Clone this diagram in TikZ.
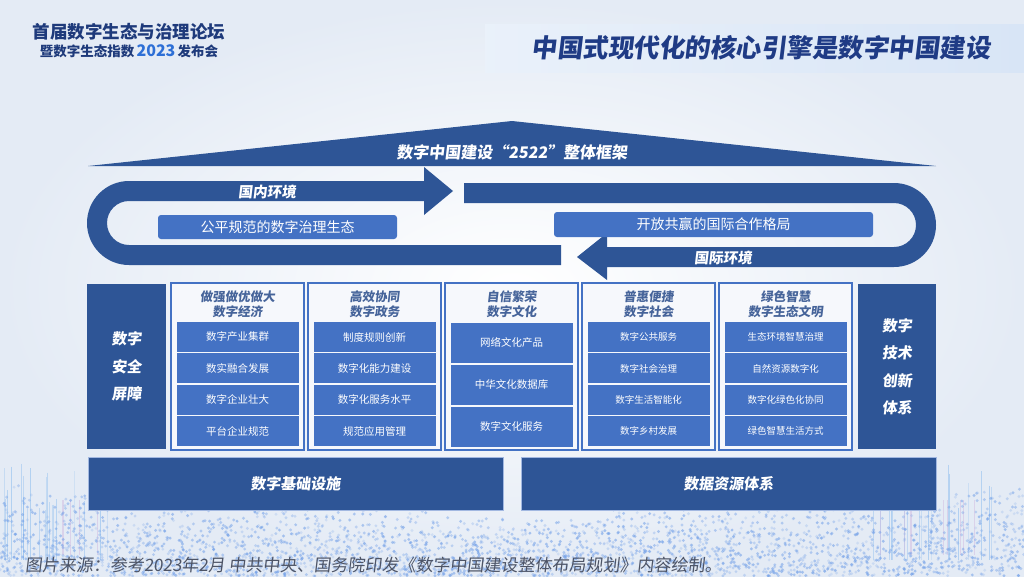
\documentclass[tikz,border=0pt]{standalone}
\usepackage{fontspec}
\setmainfont{Noto Sans CJK SC}
\newfontfamily\slantcjk{Noto Sans CJK SC}[FakeSlant=0.12]
\definecolor{navy}{HTML}{2E5596}
\definecolor{midblue}{HTML}{4472C4}
\definecolor{headnavy}{HTML}{1E3A7B}
\definecolor{coltitlec}{HTML}{46649A}
\definecolor{bandblue}{HTML}{D8E5F6}
\definecolor{bgedge}{HTML}{E4EBF5}
\definecolor{footcol}{HTML}{4D5466}
\definecolor{colbg}{HTML}{F6F8FC}
\definecolor{dotblue}{HTML}{6F9EE8}
\definecolor{streak}{HTML}{7FB6EE}
\definecolor{streakpink}{HTML}{C9A6D8}
\definecolor{yearblue}{HTML}{2D6FD6}
\definecolor{titlenavy}{HTML}{1F3B85}
\begin{document}
\begin{tikzpicture}[x=1pt,y=-1pt,
  every node/.style={inner sep=0pt, outer sep=0pt},
  roundbox/.style={fill=midblue, rounded corners=3pt, text=white, font=\fontsize{14}{16}\selectfont},
  sidebox/.style={fill=navy, text=white, align=center, font=\slantcjk\bfseries\fontsize{15}{27.5}\selectfont},
  colframe/.style={draw=midblue, line width=1.8pt, fill=colbg, minimum width=133pt, minimum height=167pt},
  coltitle/.style={text=coltitlec, align=center, font=\slantcjk\bfseries\fontsize{12.5}{15}\selectfont},
  itembox/.style={fill=midblue, text=white, font=\fontsize{10.5}{12}\selectfont, minimum width=122pt},
  itemsmall/.style={itembox, font=\fontsize{9.5}{11}\selectfont},
  basebar/.style={fill=navy, draw=midblue!50, line width=0.6pt, text=white, minimum width=415pt, minimum height=53pt, font=\slantcjk\bfseries\fontsize{15}{18}\selectfont},
  envlabel/.style={text=white, font=\slantcjk\bfseries\fontsize{14.5}{16}\selectfont},
]
\useasboundingbox (0,0) rectangle (1024,576);
% background
\fill[bgedge] (0,0) rectangle (1024,576);
\shade[inner color=white, outer color=bgedge] (0,0) rectangle (1024,576);
% decorative dots at bottom
\pgfmathsetseed{42}
\foreach \i in {1,...,40}{
  \pgfmathsetmacro{\px}{rnd<0.5 ? rnd*120 : 870+rnd*154}
  \pgfmathsetmacro{\py}{460+rnd*50}
  \pgfmathsetmacro{\op}{0.2+0.3*rnd}
  \draw[streak, opacity=\op, line width=1pt] (\px,\py) -- (\px,560);
}
\foreach \i in {1,...,12}{
  \pgfmathsetmacro{\px}{rnd<0.5 ? 40+rnd*60 : 880+rnd*120}
  \draw[streakpink, opacity=0.35, line width=1.2pt] (\px,500) -- (\px,555);
}
\foreach \i in {1,...,3200}{
  \pgfmathsetmacro{\px}{rnd*1024}
  \pgfmathsetmacro{\tp}{508-30*((\px-512)/512)^2+8*sin(\px*0.9)}
  \pgfmathsetmacro{\py}{\tp+(576-\tp)*pow(rnd,0.55)}
  \pgfmathsetmacro{\op}{0.18+0.4*rnd}
  \fill[dotblue, opacity=\op] (\px,\py) circle[radius=1.6pt];
}
% header
\node[text=headnavy, font=\bfseries\fontsize{17.5}{20}\selectfont] (h1) at (129,32) {首届数字生态与治理论坛};
\node[text=headnavy, font=\bfseries\fontsize{13.5}{16}\selectfont] (h2) at (129,51) {暨数字生态指数\,{\color{yearblue}\fontsize{16}{16}\selectfont 2023}\,发布会};
% title band
\shade[left color=bandblue!55!white, right color=bandblue] (485,24) rectangle (1024,72);
\node[text=titlenavy, font=\slantcjk\bfseries\fontsize{25.5}{28}\selectfont] (title) at (761,48) {中国式现代化的核心引擎是数字中国建设};
% roof
\fill[navy] (88,166) -- (512,121) -- (936,166) -- cycle;
\node[text=white, font=\slantcjk\bfseries\fontsize{16}{18}\selectfont] (roof) at (512,152) {数字中国建设“2522”整体框架};
% track left
\fill[navy] (424,181) -- (129,181) arc[start angle=270, end angle=90, radius=42] -- (561,265) -- (561,245) -- (129,245) arc[start angle=90, end angle=270, radius=22] -- (424,201) -- (424,215) -- (453,191) -- (424,167) -- cycle;
% track right
\fill[navy] (464,183) -- (894,183) arc[start angle=-90, end angle=90, radius=42] -- (607,267) -- (607,280) -- (577,257) -- (607,233) -- (607,247) -- (894,247) arc[start angle=90, end angle=-90, radius=22] -- (464,203) -- cycle;
\node[envlabel] (dom) at (267,192) {国内环境};
\node[envlabel] (intl) at (723,258) {国际环境};
\node[roundbox, minimum width=239pt, minimum height=24pt] (gov) at (277.5,227) {公平规范的数字治理生态};
\node[roundbox, minimum width=319pt, minimum height=25pt] (coop) at (713.5,224.5) {开放共赢的国际合作格局};
% side boxes
\node[sidebox, minimum width=79pt, minimum height=165pt] (sec) at (126.5,366.5) {数字\\安全\\屏障};
\node[sidebox, minimum width=78pt, minimum height=165pt] (tech) at (897,366.5) {数字\\技术\\创新\\体系};
% columns
\node[colframe] (c1) at (237.5,366.5) {};
\node[colframe] (c2) at (374.5,366.5) {};
\node[colframe] (c3) at (511.5,366.5) {};
\node[colframe] (c4) at (648.5,366.5) {};
\node[colframe] (c5) at (785.5,366.5) {};
\node[coltitle] (t1) at (237.5,304.5) {做强做优做大\\数字经济};
\node[coltitle] (t2) at (374.5,304.5) {高效协同\\数字政务};
\node[coltitle] (t3) at (511.5,304.5) {自信繁荣\\数字文化};
\node[coltitle] (t4) at (648.5,304.5) {普惠便捷\\数字社会};
\node[coltitle] (t5) at (785.5,304.5) {绿色智慧\\数字生态文明};
% column 1
\node[itembox, minimum height=30pt] (c1a) at (237.5,337) {数字产业集群};
\node[itembox, minimum height=30pt] (c1b) at (237.5,368.4) {数实融合发展};
\node[itembox, minimum height=30pt] (c1c) at (237.5,399.8) {数字企业壮大};
\node[itembox, minimum height=30pt] (c1d) at (237.5,431.2) {平台企业规范};
% column 2
\node[itembox, minimum height=30pt] (c2a) at (374.5,337) {制度规则创新};
\node[itembox, minimum height=30pt] (c2b) at (374.5,368.4) {数字化能力建设};
\node[itembox, minimum height=30pt] (c2c) at (374.5,399.8) {数字化服务水平};
\node[itembox, minimum height=30pt] (c2d) at (374.5,431.2) {规范应用管理};
% column 3
\node[itembox, minimum height=39.5pt] (c3a) at (511.5,342.75) {网络文化产品};
\node[itembox, minimum height=39.5pt] (c3b) at (511.5,384.75) {中华文化数据库};
\node[itembox, minimum height=39.5pt] (c3c) at (511.5,426.75) {数字文化服务};
% column 4
\node[itemsmall, minimum height=30pt] (c4a) at (648.5,337) {数字公共服务};
\node[itemsmall, minimum height=30pt] (c4b) at (648.5,368.4) {数字社会治理};
\node[itemsmall, minimum height=30pt] (c4c) at (648.5,399.8) {数字生活智能化};
\node[itemsmall, minimum height=30pt] (c4d) at (648.5,431.2) {数字乡村发展};
% column 5
\node[itemsmall, minimum height=30pt] (c5a) at (785.5,337) {生态环境智慧治理};
\node[itemsmall, minimum height=30pt] (c5b) at (785.5,368.4) {自然资源数字化};
\node[itemsmall, minimum height=30pt] (c5c) at (785.5,399.8) {数字化绿色化协同};
\node[itemsmall, minimum height=30pt] (c5d) at (785.5,431.2) {绿色智慧生活方式};
% base bars
\node[basebar] (infra) at (295.5,483.5) {数字基础设施};
\node[basebar] (data) at (728.5,483.5) {数据资源体系};
% footer
\node[anchor=west, text=footcol, font=\slantcjk\fontsize{17}{18}\selectfont] (foot) at (25,565) {图片来源：参考2023年2月 中共中央、国务院印发《数字中国建设整体布局规划》内容绘制。};
\end{tikzpicture}
\end{document}
